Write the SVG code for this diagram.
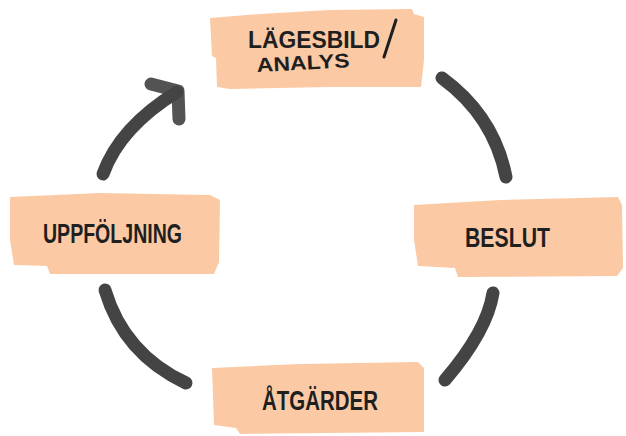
<svg xmlns="http://www.w3.org/2000/svg" width="626" height="436" viewBox="0 0 626 436">
<style>
.box{fill:#FBCAA5;}
.lbl{font-family:"Liberation Sans","DejaVu Sans",sans-serif;font-weight:bold;fill:#1f1f1f;}
.arc{fill:none;stroke:#444444;stroke-width:13;stroke-linecap:round;stroke-linejoin:round;}
</style>
<rect width="626" height="436" fill="#ffffff"/>
<g id="connectors">
<path class="arc" d="M103,174 Q120,127 177,92"/>
<path class="arc" d="M151,84 L178,91 L179,119" stroke-opacity="0.92"/>
<path class="arc" d="M442,78 Q494,116 506,177"/>
<path class="arc" d="M493,293 Q487,331 445,380"/>
<path class="arc" d="M105,290 Q124,354 186,383"/>
</g>
<g id="node-lagesbild">
<polygon class="box" points="210,18 260,14 330,10 412,9 414,14 424,17 424,60 421,87 330,87 230,89 217,87 216,58 212,56"/>
<text class="lbl" x="248" y="48" font-size="23" textLength="132" lengthAdjust="spacingAndGlyphs">LÄGESBILD</text>
<path d="M396,20 L384,57" stroke="#1f1f1f" stroke-width="3" stroke-linecap="round" fill="none"/>
<text class="lbl" x="257" y="72" font-size="20" textLength="93" lengthAdjust="spacingAndGlyphs" transform="rotate(-3 257 72)">ANALYS</text>
</g>
<g id="node-beslut">
<polygon class="box" points="414,205 500,200 618,197 622,205 623,268 617,276 458,277 455,268 418,266 414,240"/>
<text class="lbl" x="465" y="247" font-size="27" textLength="85" lengthAdjust="spacingAndGlyphs">BESLUT</text>
</g>
<g id="node-atgarder">
<polygon class="box" points="212,368 300,364 418,362 424,368 424,432 240,434 236,428 214,425"/>
<text class="lbl" x="262" y="410" font-size="27" textLength="116" lengthAdjust="spacingAndGlyphs">ÅTGÄRDER</text>
</g>
<g id="node-uppfoljning">
<polygon class="box" points="10,197 100,193 210,195 220,200 219,262 214,274 50,274 47,266 14,265 10,240"/>
<text class="lbl" x="43" y="243" font-size="27" textLength="139" lengthAdjust="spacingAndGlyphs">UPPFÖLJNING</text>
</g>
</svg>
